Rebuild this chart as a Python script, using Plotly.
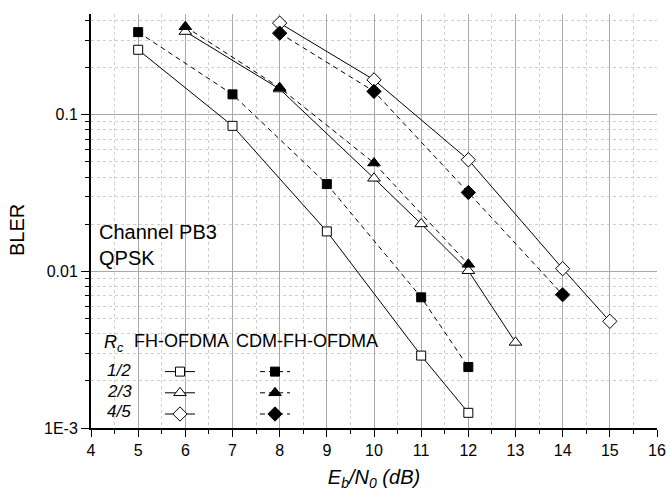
import numpy as np
import plotly.graph_objects as go

# ---- data ----
ebno_fh_12 = [5, 7, 9, 11, 12]
bler_fh_12 = [0.26, 0.085, 0.018, 0.0029, 0.00125]
ebno_cdm_12 = [5, 7, 9, 11, 12]
bler_cdm_12 = [0.337, 0.135, 0.0361, 0.00683, 0.00245]

ebno_fh_23 = [6, 8, 10, 11, 12, 13]
bler_fh_23 = [0.340, 0.146, 0.0393, 0.0201, 0.0101, 0.00352]
ebno_cdm_23 = [6, 8, 10, 12]
bler_cdm_23 = [0.365, 0.149, 0.0492, 0.0111]

ebno_fh_45 = [8, 10, 12, 14, 15]
bler_fh_45 = [0.385, 0.167, 0.0516, 0.0104, 0.0048]
ebno_cdm_45 = [8, 10, 12, 14]
bler_cdm_45 = [0.332, 0.141, 0.0319, 0.0071]

rate_labels = ["1/2", "2/3", "4/5"]
y_tickvals = [0.001, 0.01, 0.1]
y_ticktext = ["1E-3", "0.01", "0.1"]

FONT = "Liberation Sans, Arial, Helvetica, sans-serif"

fig = go.Figure()

series = [
    (ebno_fh_12, bler_fh_12, "square", 9, "white", "solid", "legend"),
    (ebno_fh_23, bler_fh_23, "triangle-up", 11, "white", "solid", "legend"),
    (ebno_fh_45, bler_fh_45, "diamond", 11, "white", "solid", "legend"),
    (ebno_cdm_12, bler_cdm_12, "square", 9, "black", "5px,4px", "legend2"),
    (ebno_cdm_23, bler_cdm_23, "triangle-up", 11, "black", "5px,4px", "legend2"),
    (ebno_cdm_45, bler_cdm_45, "diamond", 11, "black", "5px,4px", "legend2"),
]
for xs, ys, sym, size, fill, dash, lg in series:
    fig.add_trace(go.Scatter(
        x=xs, y=ys, mode="lines+markers", name="",
        line=dict(color="black", width=1, dash=dash),
        marker=dict(symbol=sym, size=size, color=fill,
                    line=dict(color="black", width=1)),
        legend=lg, showlegend=True,
    ))

L, R, T, B = 91, 13, 14, 66
W, H = 670, 494
pw, ph = W - L - R, H - T - B

def px(xpix):
    return (xpix - L) / pw

def py(ypix):
    return (H - B - ypix) / ph

minor_y = [m * 10.0 ** e for e in (-3, -2, -1) for m in range(2, 10) if m * 10.0 ** e <= 0.44]

fig.update_layout(
    width=W, height=H,
    margin=dict(l=L, r=R, t=T, b=B, autoexpand=False),
    paper_bgcolor="white", plot_bgcolor="white",
    font=dict(family=FONT, size=16, color="black"),
    xaxis=dict(
        range=[4, 16], dtick=1, tick0=4, automargin=False,
        showline=True, linecolor="black", linewidth=2,
        ticks="outside", ticklen=7, tickwidth=1, tickcolor="black",
        showgrid=True, gridcolor="#a9a9a9", gridwidth=1,
        zeroline=False,
        tickfont=dict(size=16),
        minor=dict(dtick=0.5, ticks="outside", ticklen=4, tickcolor="black",
                   showgrid=True, gridcolor="#cfcfcf", griddash="dot", gridwidth=1),
        title=dict(text="<i>E<sub>b</sub>/N<sub>0</sub> (dB)</i>",
                   font=dict(size=20), standoff=12),
    ),
    yaxis=dict(
        type="log", range=[-3, np.log10(0.44)], automargin=False,
        tickmode="array", tickvals=y_tickvals, ticktext=y_ticktext,
        showline=True, linecolor="black", linewidth=2,
        ticks="outside", ticklen=8, tickwidth=1, tickcolor="black",
        showgrid=True, gridcolor="#a9a9a9", gridwidth=1,
        zeroline=False,
        tickfont=dict(size=16),
        minor=dict(tickmode="array", tickvals=minor_y, ticks="outside", ticklen=4,
                   tickcolor="black", showgrid=True, gridcolor="#cfcfcf",
                   griddash="dot", gridwidth=1),
    ),
    legend=dict(x=px(160), y=py(356), xanchor="left", yanchor="top",
                bgcolor="rgba(0,0,0,0)", borderwidth=0, tracegroupgap=0,
                font=dict(size=14), itemwidth=30),
    legend2=dict(x=px(255), y=py(356), xanchor="left", yanchor="top",
                 bgcolor="rgba(0,0,0,0)", borderwidth=0, tracegroupgap=0,
                 font=dict(size=14), itemwidth=30),
)

def note(text, xpix, ypix, size, **kw):
    d = dict(text=text, x=px(xpix), y=py(ypix), xref="paper", yref="paper",
             xanchor="center", yanchor="middle", showarrow=False, font=dict(size=size))
    d.update(kw)
    return d

ann = [
    note("BLER", 17, 230, 20, textangle=-90),
    note("Channel PB3<br>QPSK", 97, 245, 20, xanchor="left", align="left"),
    note("<i>R<sub>c</sub></i>", 114, 343, 18),
    note("FH-OFDMA", 181, 341, 18),
    note("CDM-FH-OFDMA", 307, 341, 18),
]
for lbl, yy in zip(rate_labels, [370, 391, 411]):
    ann.append(note("<i>%s</i>" % lbl, 119, yy, 17))
fig.update_layout(annotations=ann)

fig.write_html("out.html")
